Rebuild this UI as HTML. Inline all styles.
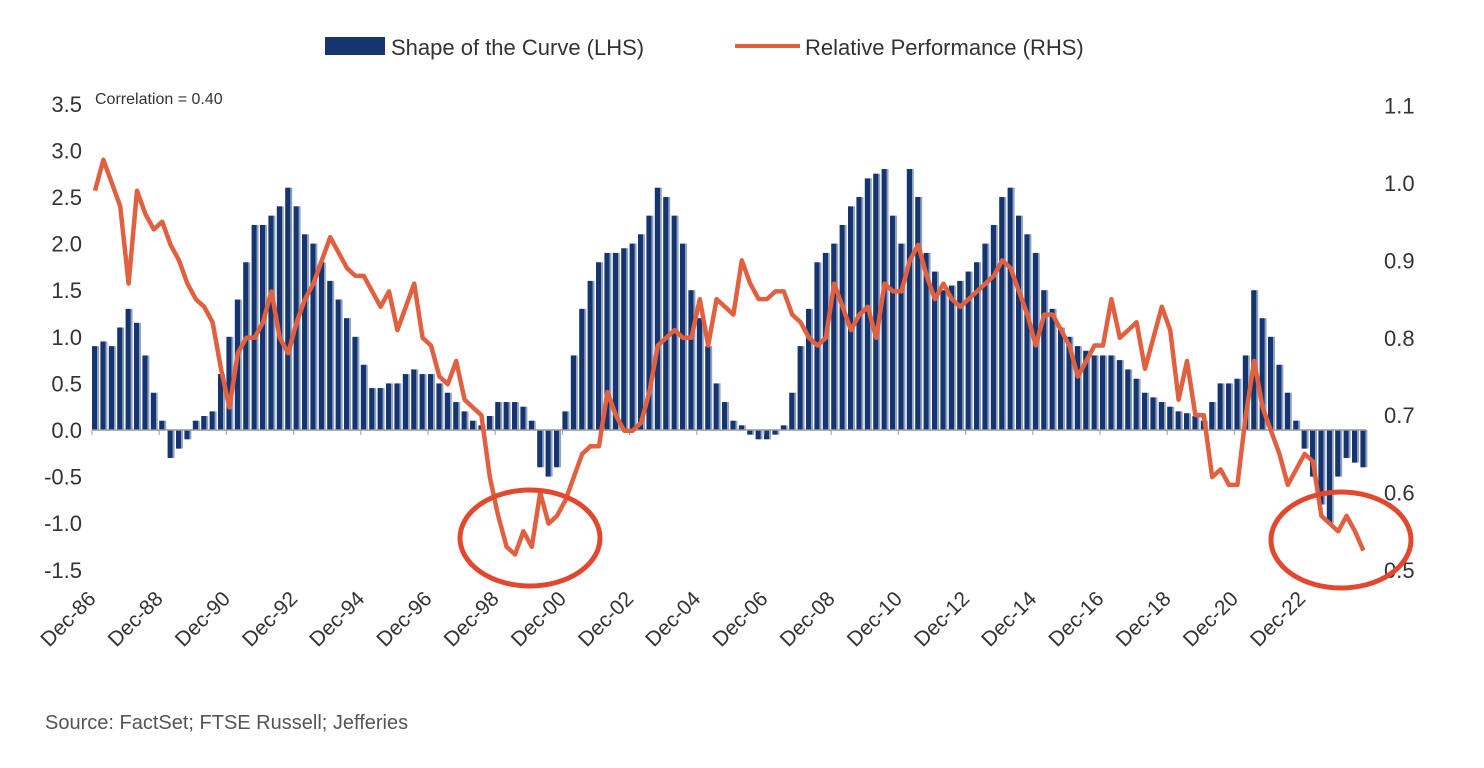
<!DOCTYPE html>
<html><head><meta charset="utf-8"><style>
html,body{margin:0;padding:0;background:#fff;}
svg{display:block;font-family:"Liberation Sans",sans-serif;}
</style></head><body>
<svg id="chart" width="1484" height="768" viewBox="0 0 1484 768">
<g>
<rect x="325" y="37" width="60" height="18" fill="#16346e"/>
<text x="391" y="55" font-size="22" fill="#333">Shape of the Curve (LHS)</text>
<line x1="735" y1="46" x2="800" y2="46" stroke="#e0603f" stroke-width="4"/>
<text x="805" y="55" font-size="22" fill="#333">Relative Performance (RHS)</text>
</g>
<text x="95" y="104" font-size="16" fill="#333">Correlation = 0.40</text>
<g id="leftAxis"></g>
<g id="rightAxis"></g>
<g id="bars"></g>
<line x1="92" y1="430" x2="1366" y2="430" stroke="#999" stroke-width="1.5"/>
<g id="xAxis"></g>
<path id="perfLine" fill="none" stroke="#e0603f" stroke-width="4.5" stroke-linejoin="round"/>
<ellipse cx="530" cy="538" rx="70" ry="48" fill="none" stroke="#e2482e" stroke-width="5"/>
<ellipse cx="1341" cy="540" rx="70" ry="48" fill="none" stroke="#e2482e" stroke-width="5"/>
<text x="45" y="729" font-size="20" fill="#555">Source: FactSet; FTSE Russell; Jefferies</text>
</svg>
<script>
// Quarterly, starting Dec-86
const curveValues = [
0.9,0.95,0.9,1.1,1.3,1.15,0.8,0.4,
0.1,-0.3,-0.2,-0.1,0.1,0.15,0.2,0.6,
1.0,1.4,1.8,2.2,2.2,2.3,2.4,2.6,
2.4,2.1,2.0,1.8,1.6,1.4,1.2,1.0,
0.7,0.45,0.45,0.5,0.5,0.6,0.65,0.6,
0.6,0.5,0.4,0.3,0.2,0.1,0.05,0.15,
0.3,0.3,0.3,0.25,0.1,-0.4,-0.5,-0.4,
0.2,0.8,1.3,1.6,1.8,1.9,1.9,1.95,
2.0,2.1,2.3,2.6,2.5,2.3,2.0,1.5,
1.2,0.9,0.5,0.3,0.1,0.05,-0.05,-0.1,
-0.1,-0.05,0.05,0.4,0.9,1.3,1.8,1.9,
2.0,2.2,2.4,2.5,2.7,2.75,2.8,2.3,
2.0,2.8,2.5,1.9,1.7,1.5,1.55,1.6,
1.7,1.8,2.0,2.2,2.5,2.6,2.3,2.1,
1.9,1.5,1.3,1.1,1.0,0.9,0.85,0.8,
0.8,0.8,0.75,0.65,0.55,0.4,0.35,0.3,
0.25,0.2,0.18,0.15,0.1,0.3,0.5,0.5,
0.55,0.8,1.5,1.2,1.0,0.7,0.4,0.1,
-0.2,-0.5,-0.8,-1.0,-0.5,-0.3,-0.35,-0.4];
const perfValues = [
0.99,1.03,1.00,0.97,0.87,0.99,0.96,0.94,
0.95,0.92,0.90,0.87,0.85,0.84,0.82,0.76,
0.71,0.78,0.80,0.80,0.82,0.86,0.80,0.78,
0.82,0.85,0.87,0.90,0.93,0.91,0.89,0.88,
0.88,0.86,0.84,0.86,0.81,0.84,0.87,0.80,
0.79,0.75,0.74,0.77,0.72,0.71,0.70,0.62,
0.57,0.53,0.52,0.55,0.53,0.60,0.56,0.57,
0.59,0.62,0.65,0.66,0.66,0.73,0.70,0.68,
0.68,0.69,0.73,0.79,0.80,0.81,0.80,0.80,
0.85,0.79,0.85,0.84,0.83,0.90,0.87,0.85,
0.85,0.86,0.86,0.83,0.82,0.80,0.79,0.80,
0.87,0.84,0.81,0.83,0.84,0.80,0.87,0.86,
0.86,0.90,0.92,0.88,0.85,0.87,0.85,0.84,
0.85,0.86,0.87,0.88,0.90,0.89,0.86,0.83,
0.79,0.83,0.83,0.81,0.79,0.75,0.77,0.79,
0.79,0.85,0.80,0.81,0.82,0.76,0.80,0.84,
0.81,0.72,0.77,0.70,0.70,0.62,0.63,0.61,
0.61,0.70,0.77,0.71,0.68,0.65,0.61,0.63,
0.65,0.64,0.57,0.56,0.55,0.57,0.55,0.525];
const leftTicks = [3.5,3.0,2.5,2.0,1.5,1.0,0.5,0.0,-0.5,-1.0,-1.5];
const rightTicks = [1.1,1.0,0.9,0.8,0.7,0.6,0.5];
const xLabels = ["Dec-86","Dec-88","Dec-90","Dec-92","Dec-94","Dec-96","Dec-98","Dec-00","Dec-02","Dec-04","Dec-06","Dec-08","Dec-10","Dec-12","Dec-14","Dec-16","Dec-18","Dec-20","Dec-22"];

const NS="http://www.w3.org/2000/svg";
const X0=92, PX_YEAR=33.6;
const xAt = q => X0 + q*PX_YEAR/4;
const yL = v => 430 - v*93.2;
const yR = v => 570 - (v-0.5)*774;
function mk(tag, parent){const e=document.createElementNS(NS,tag);document.getElementById(parent).appendChild(e);return e;}

leftTicks.forEach(t=>{
  const e=mk('text','leftAxis');
  
  
  e.setAttribute('x',82);e.setAttribute('y',yL(t)+8);e.setAttribute('text-anchor','end');
  e.setAttribute('font-size','22');e.setAttribute('fill','#333');
  e.textContent=t.toFixed(1);
});
rightTicks.forEach(t=>{
  const e=mk('text','rightAxis');
  
  
  e.setAttribute('x',1384);e.setAttribute('y',yR(t)+8);
  e.setAttribute('font-size','22');e.setAttribute('fill','#333');
  e.textContent=t.toFixed(1);
});
curveValues.forEach((v,i)=>{
  const x=xAt(i);
  const r=mk('rect','bars');
  
  
  const y0=yL(0), y1=yL(v);
  r.setAttribute('x',x);r.setAttribute('width',5.2);
  r.setAttribute('y',Math.min(y0,y1));r.setAttribute('height',Math.max(0.5,Math.abs(y1-y0)));
  r.setAttribute('fill','#16346e');
  const r2=mk('rect','bars');
  
  
  r2.setAttribute('x',x+5.2);r2.setAttribute('width',1.8);
  r2.setAttribute('y',Math.min(y0,y1));r2.setAttribute('height',Math.max(0.5,Math.abs(y1-y0)));
  r2.setAttribute('fill','#8ea2c6');
});
xLabels.forEach((lab,i)=>{
  const x=xAt(i*8);
  const tk=mk('line','xAxis');
  
  
  tk.setAttribute('x1',x);tk.setAttribute('x2',x);tk.setAttribute('y1',430);tk.setAttribute('y2',435);
  tk.setAttribute('stroke','#999');
  const e=mk('text','xAxis');
  
  
  e.setAttribute('text-anchor','end');e.setAttribute('font-size','21');e.setAttribute('fill','#333');
  e.setAttribute('transform','translate('+(x+5)+',600) rotate(-45)');
  e.textContent=lab;
});
let d='';
perfValues.forEach((v,i)=>{d+=(i?'L':'M')+(xAt(i)+3).toFixed(1)+','+yR(v).toFixed(1);});
document.getElementById('perfLine').setAttribute('d',d);
</script>
</body></html>
